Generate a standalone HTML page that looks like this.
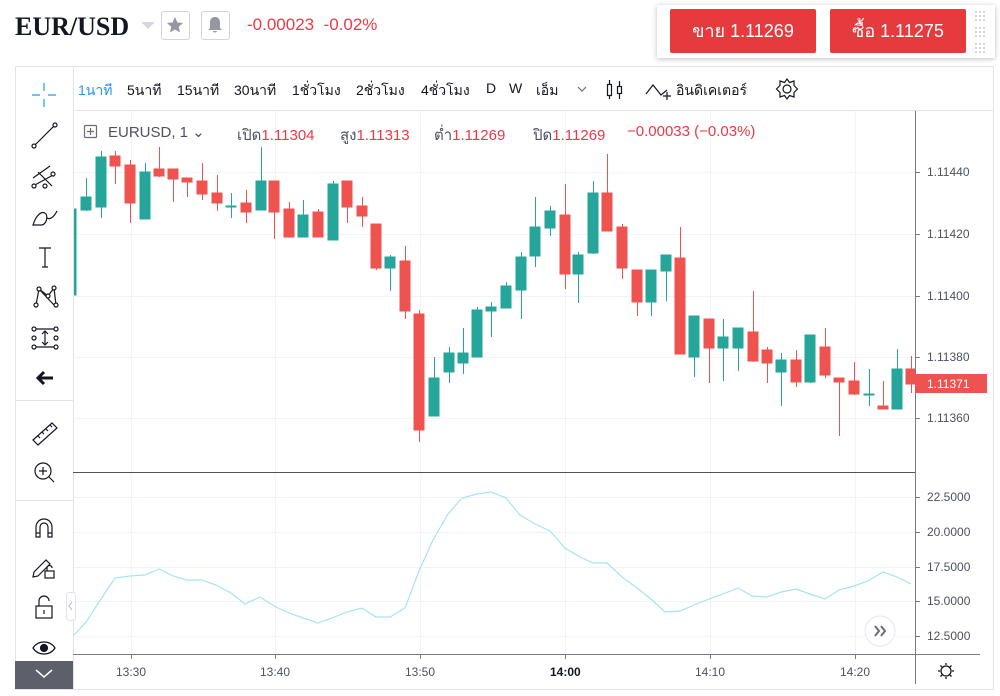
<!DOCTYPE html>
<html><head><meta charset="utf-8"><style>
html,body{margin:0;padding:0;background:#fff;width:1000px;height:696px;overflow:hidden}
body{position:relative;font-family:"Liberation Sans","DejaVu Sans",sans-serif}
.a{position:absolute;white-space:nowrap}
.tb{top:80px;font-size:14px;color:#131722}
.lg{top:123px;font-size:15px;color:#4c525e}
.r{color:#f23645}
.pa{left:927px;font-size:12px;color:#4c525e}
.ta{top:665px;font-size:12px;color:#4c525e}
</style></head><body>
<div class="a" style="left:15px;top:12px;font-family:'Liberation Serif',serif;font-weight:bold;font-size:26px;color:#131722">EUR/USD</div>
<svg class="a" style="left:140px;top:20px" width="16" height="10"><path d="M1 2 L15 2 L8 9Z" fill="#d6d8de"/></svg>
<div class="a" style="left:161px;top:11px;width:27px;height:27px;border:1px solid #d1d4dc;border-radius:3px"></div>
<svg class="a" style="left:165px;top:15px" width="20" height="20"><path d="M10 2 L12.4 7.5 L18 8 L13.7 11.8 L15 17.5 L10 14.5 L5 17.5 L6.3 11.8 L2 8 L7.6 7.5Z" fill="#9598a1"/></svg>
<div class="a" style="left:201px;top:11px;width:27px;height:27px;border:1px solid #d1d4dc;border-radius:3px"></div>
<svg class="a" style="left:205px;top:15px" width="20" height="20"><path d="M10 2 C6 2 5 5 5 8 L5 13 L3 15 L17 15 L15 13 L15 8 C15 5 14 2 10 2Z M8 16 L12 16 C12 18 8 18 8 16Z" fill="#9598a1"/></svg>
<div class="a" style="left:247px;top:15px;font-size:17px;color:#f23645">-0.00023&nbsp; -0.02%</div>
<div class="a" style="left:657px;top:5px;width:338px;height:53px;background:#fff;box-shadow:0 1px 5px rgba(0,0,0,.25)"></div>
<div class="a" style="left:670px;top:9px;width:146px;height:44px;background:#e53a3e;border-radius:2px;color:#fff;font-size:18px;line-height:44px;text-align:center">ขาย 1.11269</div>
<div class="a" style="left:830px;top:9px;width:136px;height:44px;background:#e53a3e;border-radius:2px;color:#fff;font-size:18px;line-height:44px;text-align:center">ซื้อ 1.11275</div>
<svg class="a" style="left:974px;top:10px" width="12" height="44"><g fill="#c5c8ce">
<circle cx="2" cy="2" r="1"/><circle cx="6" cy="2" r="1"/><circle cx="10" cy="2" r="1"/><circle cx="2" cy="6" r="1"/><circle cx="6" cy="6" r="1"/><circle cx="10" cy="6" r="1"/><circle cx="2" cy="10" r="1"/><circle cx="6" cy="10" r="1"/><circle cx="10" cy="10" r="1"/>
<circle cx="2" cy="18" r="1"/><circle cx="6" cy="18" r="1"/><circle cx="10" cy="18" r="1"/><circle cx="2" cy="22" r="1"/><circle cx="6" cy="22" r="1"/><circle cx="10" cy="22" r="1"/><circle cx="2" cy="26" r="1"/><circle cx="6" cy="26" r="1"/><circle cx="10" cy="26" r="1"/>
<circle cx="2" cy="34" r="1"/><circle cx="6" cy="34" r="1"/><circle cx="10" cy="34" r="1"/><circle cx="2" cy="38" r="1"/><circle cx="6" cy="38" r="1"/><circle cx="10" cy="38" r="1"/><circle cx="2" cy="42" r="1"/><circle cx="6" cy="42" r="1"/><circle cx="10" cy="42" r="1"/></g></svg>

<svg class="a" style="left:0;top:0" width="1000" height="696">
<rect x="15.5" y="66.5" width="978" height="623" fill="none" stroke="#e0e3eb"/>
<line x1="73.5" y1="66" x2="73.5" y2="690" stroke="#e0e3eb"/>
<line x1="73" y1="110.5" x2="993" y2="110.5" stroke="#e0e3eb"/>
<line x1="15" y1="400.5" x2="73" y2="400.5" stroke="#e0e3eb"/>
<line x1="15" y1="500.5" x2="73" y2="500.5" stroke="#e0e3eb"/>
<g stroke="#f0f3fa" stroke-width="1">
<line x1="74" y1="172.5" x2="915" y2="172.5"/><line x1="74" y1="234.5" x2="915" y2="234.5"/><line x1="74" y1="296.5" x2="915" y2="296.5"/><line x1="74" y1="357.5" x2="915" y2="357.5"/><line x1="74" y1="418.5" x2="915" y2="418.5"/>
<line x1="74" y1="497.5" x2="915" y2="497.5"/><line x1="74" y1="532.5" x2="915" y2="532.5"/><line x1="74" y1="567.5" x2="915" y2="567.5"/><line x1="74" y1="601.5" x2="915" y2="601.5"/><line x1="74" y1="636.5" x2="915" y2="636.5"/>
<line x1="131.5" y1="111" x2="131.5" y2="654"/><line x1="275.5" y1="111" x2="275.5" y2="654"/><line x1="420.5" y1="111" x2="420.5" y2="654"/><line x1="565.5" y1="111" x2="565.5" y2="654"/><line x1="710.5" y1="111" x2="710.5" y2="654"/><line x1="855.5" y1="111" x2="855.5" y2="654"/>
</g>
<clipPath id="cp"><rect x="74" y="111" width="841" height="361"/></clipPath>
<g clip-path="url(#cp)" stroke-width="1">
<g fill="#26a69a" stroke="#26a69a">
<rect x="73" y="209" width="3" height="86"/>
<line x1="86.5" y1="178" x2="86.5" y2="211"/><rect x="81" y="197" width="10" height="13"/>
<line x1="101.5" y1="151" x2="101.5" y2="218"/><rect x="96" y="157" width="10" height="50"/>
<line x1="145.5" y1="163" x2="145.5" y2="219"/><rect x="140" y="172" width="10" height="47"/>
<line x1="231.5" y1="193" x2="231.5" y2="218"/><rect x="226" y="206" width="10" height="1"/>
<line x1="261.5" y1="147" x2="261.5" y2="210"/><rect x="256" y="181" width="10" height="29"/>
<line x1="303.5" y1="200" x2="303.5" y2="237"/><rect x="298" y="215" width="10" height="22"/>
<line x1="333.5" y1="181" x2="333.5" y2="240"/><rect x="328" y="184" width="10" height="56"/>
<line x1="390.5" y1="255" x2="390.5" y2="291"/><rect x="385" y="257" width="10" height="11"/>
<line x1="434.5" y1="357" x2="434.5" y2="416"/><rect x="429" y="378" width="10" height="38"/>
<line x1="449.5" y1="347" x2="449.5" y2="383"/><rect x="444" y="353" width="10" height="19"/>
<line x1="463.5" y1="328" x2="463.5" y2="374"/><rect x="458" y="353" width="10" height="10"/>
<line x1="477.5" y1="307" x2="477.5" y2="357"/><rect x="472" y="310" width="10" height="47"/>
<line x1="491.5" y1="302" x2="491.5" y2="337"/><rect x="486" y="307" width="10" height="4"/>
<line x1="506.5" y1="282" x2="506.5" y2="308"/><rect x="501" y="286" width="10" height="22"/>
<line x1="521.5" y1="252" x2="521.5" y2="319"/><rect x="516" y="257" width="10" height="33"/>
<line x1="535.5" y1="197" x2="535.5" y2="267"/><rect x="530" y="227" width="10" height="29"/>
<line x1="550.5" y1="206" x2="550.5" y2="236"/><rect x="545" y="211" width="10" height="17"/>
<line x1="578.5" y1="252" x2="578.5" y2="303"/><rect x="573" y="255" width="10" height="19"/>
<line x1="593.5" y1="181" x2="593.5" y2="254"/><rect x="588" y="193" width="10" height="60"/>
<line x1="651.5" y1="270" x2="651.5" y2="316"/><rect x="646" y="270" width="10" height="32"/>
<line x1="666.5" y1="255" x2="666.5" y2="301"/><rect x="661" y="255" width="10" height="16"/>
<line x1="694.5" y1="316" x2="694.5" y2="377"/><rect x="689" y="316" width="10" height="41"/>
<line x1="723.5" y1="319" x2="723.5" y2="381"/><rect x="718" y="337" width="10" height="11"/>
<line x1="738.5" y1="328" x2="738.5" y2="371"/><rect x="733" y="328" width="10" height="20"/>
<line x1="781.5" y1="353" x2="781.5" y2="406"/><rect x="776" y="360" width="10" height="12"/>
<line x1="810.5" y1="335" x2="810.5" y2="383"/><rect x="805" y="335" width="10" height="47"/>
<line x1="869.5" y1="369" x2="869.5" y2="406"/><rect x="864" y="394" width="10" height="1"/>
<line x1="897.5" y1="349" x2="897.5" y2="409"/><rect x="892" y="369" width="10" height="40"/>
</g>
<g fill="#ef5350" stroke="#ef5350">
<line x1="115.5" y1="151" x2="115.5" y2="184"/><rect x="110" y="156" width="10" height="10"/>
<line x1="130.5" y1="160" x2="130.5" y2="223"/><rect x="125" y="165" width="10" height="38"/>
<line x1="159.5" y1="147" x2="159.5" y2="177"/><rect x="154" y="169" width="10" height="7"/>
<line x1="173.5" y1="169" x2="173.5" y2="202"/><rect x="168" y="169" width="10" height="10"/>
<line x1="187.5" y1="178" x2="187.5" y2="197"/><rect x="182" y="178" width="10" height="4"/>
<line x1="202.5" y1="163" x2="202.5" y2="200"/><rect x="197" y="181" width="10" height="13"/>
<line x1="217.5" y1="175" x2="217.5" y2="211"/><rect x="212" y="193" width="10" height="10"/>
<line x1="246.5" y1="190" x2="246.5" y2="223"/><rect x="241" y="203" width="10" height="9"/>
<line x1="274.5" y1="181" x2="274.5" y2="239"/><rect x="269" y="181" width="10" height="31"/>
<line x1="289.5" y1="202" x2="289.5" y2="237"/><rect x="284" y="209" width="10" height="28"/>
<line x1="318.5" y1="209" x2="318.5" y2="237"/><rect x="313" y="212" width="10" height="25"/>
<line x1="347.5" y1="181" x2="347.5" y2="223"/><rect x="342" y="181" width="10" height="26"/>
<line x1="362.5" y1="197" x2="362.5" y2="227"/><rect x="357" y="206" width="10" height="10"/>
<line x1="376.5" y1="224" x2="376.5" y2="270"/><rect x="371" y="224" width="10" height="44"/>
<line x1="405.5" y1="246" x2="405.5" y2="319"/><rect x="400" y="261" width="10" height="50"/>
<line x1="419.5" y1="310" x2="419.5" y2="442"/><rect x="414" y="314" width="10" height="116"/>
<line x1="565.5" y1="184" x2="565.5" y2="289"/><rect x="560" y="215" width="10" height="59"/>
<line x1="607.5" y1="154" x2="607.5" y2="231"/><rect x="602" y="193" width="10" height="38"/>
<line x1="622.5" y1="224" x2="622.5" y2="279"/><rect x="617" y="227" width="10" height="41"/>
<line x1="637.5" y1="270" x2="637.5" y2="316"/><rect x="632" y="270" width="10" height="32"/>
<line x1="680.5" y1="227" x2="680.5" y2="354"/><rect x="675" y="258" width="10" height="96"/>
<line x1="709.5" y1="319" x2="709.5" y2="383"/><rect x="704" y="319" width="10" height="29"/>
<line x1="753.5" y1="291" x2="753.5" y2="362"/><rect x="748" y="332" width="10" height="29"/>
<line x1="767.5" y1="347" x2="767.5" y2="383"/><rect x="762" y="350" width="10" height="13"/>
<line x1="796.5" y1="350" x2="796.5" y2="387"/><rect x="791" y="360" width="10" height="22"/>
<line x1="825.5" y1="328" x2="825.5" y2="378"/><rect x="820" y="347" width="10" height="28"/>
<line x1="839.5" y1="378" x2="839.5" y2="436"/><rect x="834" y="378" width="10" height="4"/>
<line x1="854.5" y1="362" x2="854.5" y2="395"/><rect x="849" y="381" width="10" height="13"/>
<line x1="883.5" y1="381" x2="883.5" y2="409"/><rect x="878" y="406" width="10" height="3"/>
<line x1="911.5" y1="356" x2="911.5" y2="393"/><rect x="906" y="369" width="10" height="15"/>
</g></g>
<polyline fill="none" stroke="#a6e4f0" stroke-width="1.2" points="74,635 86,622 101,599 115,578 130,576 145,575 159,569 173,576 187,580 202,580 216,585 231,593 245,604 260,597 274,606 289,613 303,618 318,623 332,618 347,612 362,608 376,617 390,617 405,608 419,571 433,540 448,514 462,498 477,494 491,492 506,498 520,515 535,524 550,531 565,548 578,556 593,563 607,563 622,577 637,588 651,599 665,612 680,611 694,605 709,599 723,594 738,588 752,596 767,597 781,592 796,589 810,594 825,599 839,590 854,586 868,581 883,572 897,577 911,584"/>
<line x1="73" y1="472.5" x2="915" y2="472.5" stroke="#50535e"/>
<line x1="73" y1="654.5" x2="980" y2="654.5" stroke="#787b86"/>
<line x1="915.5" y1="111" x2="915.5" y2="684" stroke="#787b86"/>
<g stroke="#787b86">
<line x1="915" y1="172.5" x2="920" y2="172.5"/><line x1="915" y1="234.5" x2="920" y2="234.5"/><line x1="915" y1="296.5" x2="920" y2="296.5"/><line x1="915" y1="357.5" x2="920" y2="357.5"/><line x1="915" y1="418.5" x2="920" y2="418.5"/>
<line x1="915" y1="497.5" x2="920" y2="497.5"/><line x1="915" y1="532.5" x2="920" y2="532.5"/><line x1="915" y1="567.5" x2="920" y2="567.5"/><line x1="915" y1="601.5" x2="920" y2="601.5"/><line x1="915" y1="636.5" x2="920" y2="636.5"/>
<line x1="131.5" y1="654" x2="131.5" y2="659"/><line x1="275.5" y1="654" x2="275.5" y2="659"/><line x1="420.5" y1="654" x2="420.5" y2="659"/><line x1="565.5" y1="654" x2="565.5" y2="659"/><line x1="710.5" y1="654" x2="710.5" y2="659"/><line x1="855.5" y1="654" x2="855.5" y2="659"/>
</g>
<rect x="915" y="374" width="72" height="19" fill="#ef5350"/>
<text x="927" y="388" font-size="12" fill="#fff" font-family="Liberation Sans,sans-serif">1.11371</text>
<circle cx="880" cy="631" r="15" fill="#fff" stroke="#e6e8ee"/>
<path d="M875 626 L879 631 L875 636 M881 626 L885 631 L881 636" stroke="#6a6d78" stroke-width="2" fill="none"/>
<circle cx="946" cy="671" r="5" fill="none" stroke="#131722" stroke-width="1.3"/>
<path d="M946 663 V665 M946 677 V679 M938 671 H940 M952 671 H954 M940.5 665.5 L942 667 M950 675 L951.5 676.5 M951.5 665.5 L950 667 M942 675 L940.5 676.5" stroke="#131722" stroke-width="1.3"/>
<rect x="66.5" y="592.5" width="9" height="28" rx="3" fill="#fff" stroke="#e0e3eb"/>
<path d="M72 602 L69 606 L72 610" stroke="#b2b5be" fill="none"/>
<rect x="15" y="661" width="58" height="28" fill="#5d606b"/>
<path d="M36 670 L44 677 L52 670" stroke="#fff" stroke-width="1.5" fill="none"/>
<g stroke="#131722" stroke-width="1.2" fill="none">
<path d="M32 95 H40 M48 95 H56 M44 83 V91 M44 99 V107" stroke="#2196f3"/>
<path d="M35 145 L54 126"/><circle cx="34" cy="146" r="2" fill="#fff"/><circle cx="55" cy="125" r="2" fill="#fff"/>
<path d="M33 178 L50 166 M33 186 L55 174 M38 172 L52 186"/><circle cx="34" cy="186" r="2" fill="#fff"/><circle cx="45" cy="186" r="2" fill="#fff"/><circle cx="53" cy="174" r="2" fill="#fff"/>
<path d="M33 225 C36 215 42 210 46 214 C48 218 46 224 42 225 Z M47 218 C50 220 54 217 57 211"/>
<path d="M39 248 H51 M45 248 V267 M42 267 H48"/>
<path d="M36 305 L39 289 L48 296 L54 288 L56 305 M39 289 L54 305"/><circle cx="36" cy="305" r="2" fill="#fff"/><circle cx="39" cy="289" r="2" fill="#fff"/><circle cx="48" cy="296" r="2" fill="#fff"/><circle cx="54" cy="288" r="2" fill="#fff"/><circle cx="56" cy="305" r="2" fill="#fff"/>
<path d="M34 329 H56 M34 347 H56 M45 331 V345 M42 334 L45 331 L48 334 M42 342 L45 345 L48 342"/><circle cx="34" cy="329" r="2" fill="#fff"/><circle cx="56" cy="329" r="2" fill="#fff"/><circle cx="34" cy="347" r="2" fill="#fff"/><circle cx="56" cy="347" r="2" fill="#fff"/><circle cx="34" cy="338" r="2" fill="#fff"/><circle cx="56" cy="338" r="2" fill="#fff"/>
<path d="M53 378 H38 M44 372 L38 378 L44 384" stroke-width="3"/>
<path d="M33 440 L52 423 L57 428 L38 445 Z M38 436 L40 438 M42 432 L44 434 M46 429 L48 431 M50 425 L52 427"/>
<circle cx="43" cy="471" r="8"/><path d="M49 477 L54 482 M43 467 V475 M39 471 H47"/>
<path d="M36 537 V527 A8 8 0 0 1 52 527 V537 H48 V527 A4 4 0 0 0 40 527 V537 Z M36 533 H40 M48 533 H52"/>
<path d="M34 572 L46 560 L50 564 L38 576 L33 577 Z"/><rect x="45" y="571" width="9" height="7"/><path d="M47 571 V568 A2.5 2.5 0 0 1 52 568"/>
<rect x="36" y="606" width="16" height="12"/><path d="M39 606 V601 A5 5 0 0 1 49 601 M44 610 V614"/>
<path d="M33 648 C38 640 50 640 55 648 C50 656 38 656 33 648 Z"/><circle cx="44" cy="648" r="3.5" fill="#131722"/>
</g>
<g stroke="#131722" stroke-width="1.2" fill="none">
<path d="M578 87 L582 91 L586 87" stroke="#6a6d78"/>
<rect x="607.5" y="84.5" width="4" height="11"/><path d="M609.5 80 V84 M609.5 95 V99"/><rect x="617.5" y="86.5" width="4" height="7"/><path d="M619.5 81 V86 M619.5 94 V99"/>
<path d="M646 94 L653 85 L661 95 L667 90 M663 96 H671 M667 92 V100"/>
<circle cx="787" cy="89" r="4"/><path d="M787 79 L789.5 82.5 L794 81 L794 85.5 L797.5 89 L794 92.5 L794 97 L789.5 95.5 L787 99 L784.5 95.5 L780 97 L780 92.5 L776.5 89 L780 85.5 L780 81 L784.5 82.5 Z"/>
<rect x="84.5" y="125.5" width="12" height="12" rx="1" stroke="#6a6d78"/><path d="M90.5 128 V135 M87 131.5 H94" stroke="#6a6d78"/>
</g>
</svg>
<div class="a tb" style="left:78px;color:#2196f3">1นาที</div>
<div class="a tb" style="left:127px">5นาที</div>
<div class="a tb" style="left:177px">15นาที</div>
<div class="a tb" style="left:234px">30นาที</div>
<div class="a tb" style="left:292px">1ชั่วโมง</div>
<div class="a tb" style="left:356px">2ชั่วโมง</div>
<div class="a tb" style="left:421px">4ชั่วโมง</div>
<div class="a tb" style="left:486px">D</div>
<div class="a tb" style="left:509px">W</div>
<div class="a tb" style="left:536px">เอ็ม</div>
<div class="a tb" style="left:676px">อินดิเคเตอร์</div>
<div class="a lg" style="left:108px">EURUSD, 1 ⌄</div>
<div class="a lg" style="left:237px">เปิด<span class="r">1.11304</span></div>
<div class="a lg" style="left:340px">สูง<span class="r">1.11313</span></div>
<div class="a lg" style="left:434px">ต่ำ<span class="r">1.11269</span></div>
<div class="a lg" style="left:533px">ปิด<span class="r">1.11269</span></div>
<div class="a lg r" style="left:627px">−0.00033 (−0.03%)</div>
<div class="a pa" style="top:165px">1.11440</div>
<div class="a pa" style="top:227px">1.11420</div>
<div class="a pa" style="top:289px">1.11400</div>
<div class="a pa" style="top:350px">1.11380</div>
<div class="a pa" style="top:411px">1.11360</div>
<div class="a pa" style="top:490px">22.5000</div>
<div class="a pa" style="top:525px">20.0000</div>
<div class="a pa" style="top:560px">17.5000</div>
<div class="a pa" style="top:594px">15.0000</div>
<div class="a pa" style="top:629px">12.5000</div>
<div class="a ta" style="left:116px">13:30</div>
<div class="a ta" style="left:260px">13:40</div>
<div class="a ta" style="left:405px">13:50</div>
<div class="a ta" style="left:550px;font-weight:bold;color:#131722">14:00</div>
<div class="a ta" style="left:695px">14:10</div>
<div class="a ta" style="left:840px">14:20</div>
</body></html>
